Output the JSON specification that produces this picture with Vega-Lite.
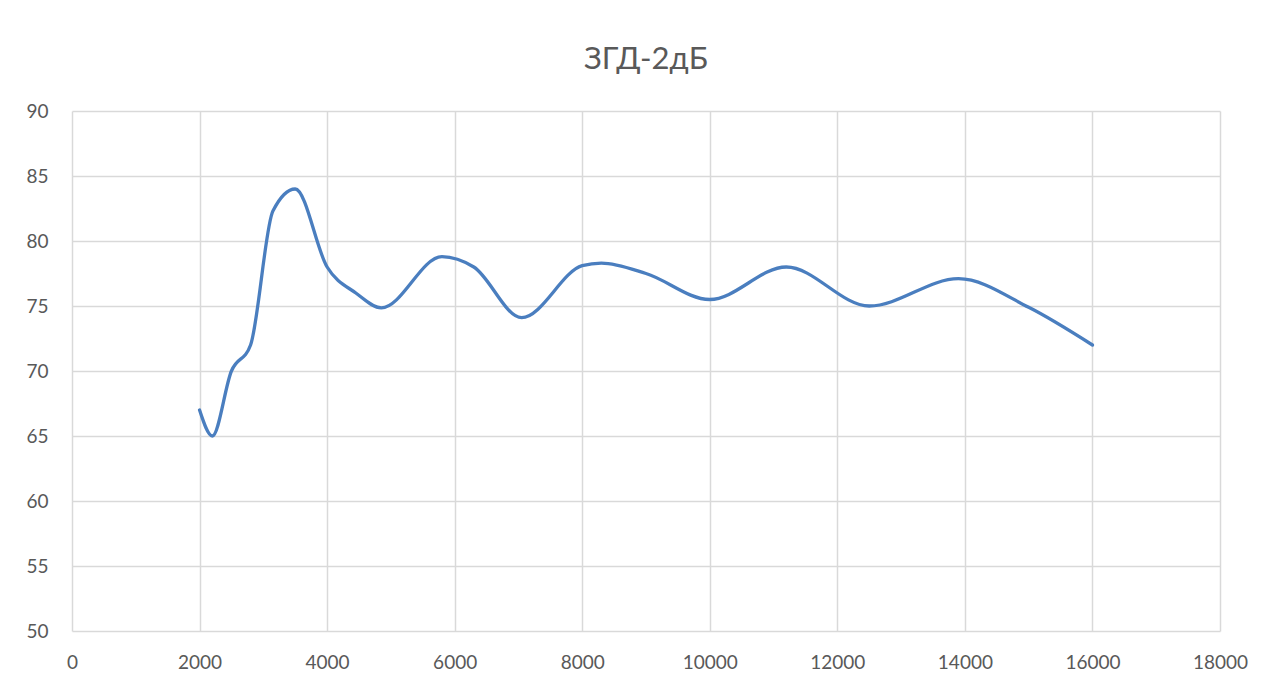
{
  "$schema": "https://vega.github.io/schema/vega-lite/v6.json",
  "autosize": "none",
  "width": 1148,
  "height": 520,
  "padding": {"left": 72, "top": 111, "right": 62, "bottom": 55},
  "background": "white",
  "title": {
    "text": "ЗГД-2дБ",
    "font": "Lato",
    "fontSize": 31,
    "fontWeight": "normal",
    "color": "#595959",
    "anchor": "middle",
    "offset": 26
  },
  "data": {
    "values": [
      {"f": 2000, "db": 67},
      {"f": 2200, "db": 65},
      {"f": 2500, "db": 70},
      {"f": 2800, "db": 72},
      {"f": 3150, "db": 82.3},
      {"f": 3500, "db": 84},
      {"f": 4000, "db": 78},
      {"f": 4450, "db": 76},
      {"f": 4850, "db": 74.85},
      {"f": 5800, "db": 78.8},
      {"f": 6300, "db": 78},
      {"f": 7050, "db": 74.1},
      {"f": 8000, "db": 78.1},
      {"f": 8300, "db": 78.3},
      {"f": 9000, "db": 77.5},
      {"f": 10000, "db": 75.5},
      {"f": 11200, "db": 78},
      {"f": 12500, "db": 75},
      {"f": 13900, "db": 77.1},
      {"f": 15000, "db": 74.9},
      {"f": 16000, "db": 72}
    ]
  },
  "mark": {
    "type": "line",
    "interpolate": "monotone",
    "color": "#4a7ebf",
    "strokeWidth": 3.3,
    "strokeCap": "round"
  },
  "encoding": {
    "x": {
      "field": "f",
      "type": "quantitative",
      "scale": {"domain": [0, 18000], "nice": false, "zero": false},
      "axis": {
        "title": null,
        "values": [0, 2000, 4000, 6000, 8000, 10000, 12000, 14000, 16000, 18000],
        "format": "d",
        "labelPadding": 22,
        "labelFlush": false
      }
    },
    "y": {
      "field": "db",
      "type": "quantitative",
      "scale": {"domain": [50, 90], "nice": false, "zero": false},
      "axis": {
        "title": null,
        "values": [50, 55, 60, 65, 70, 75, 80, 85, 90],
        "labelPadding": 24
      }
    }
  },
  "config": {
    "view": {"stroke": null},
    "axis": {
      "domain": false,
      "ticks": false,
      "grid": true,
      "gridColor": "#d9d9d9",
      "gridWidth": 1.5,
      "labelFont": "Lato",
      "labelFontSize": 19,
      "labelColor": "#595959"
    }
  }
}
